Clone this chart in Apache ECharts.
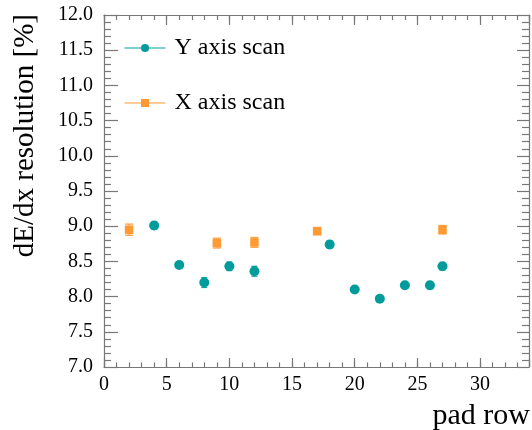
<!DOCTYPE html>
<html>
<head>
<meta charset="utf-8">
<script src="https://cdn.jsdelivr.net/npm/echarts@6/dist/echarts.min.js"></script>
<style>
  html, body { margin: 0; padding: 0; background: #fff; }
  #chart { width: 532px; height: 430px; }
</style>
</head>
<body>
<div id="chart"></div>
<script>
// dE/dx resolution per pad row, for scans along the Y and X axes
const yScanRows  = [4, 6, 8, 10, 12, 18, 20, 22, 24, 26, 27];
const yScanRes   = [9.01, 8.45, 8.20, 8.43, 8.36, 8.74, 8.10, 7.97, 8.16, 8.16, 8.43];
const yScanErr   = [0.05, 0.04, 0.07, 0.06, 0.07, 0.05, 0.04, 0.04, 0.04, 0.05, 0.05];

const xScanRows  = [2, 9, 12, 17, 27];
const xScanRes   = [8.95, 8.76, 8.77, 8.93, 8.95];
const xScanErr   = [0.08, 0.07, 0.07, 0.05, 0.06];

const seriesNames = ['Y axis scan', 'X axis scan'];
const xTitle = 'pad row';
const yTitle = 'dE/dx resolution [%]';

const TEAL = '#009b9b';
const ORANGE = '#ff9933';
const AXIS_GREY = '#777777';
const FONT = "'Liberation Serif', 'Times New Roman', serif";

const X_MIN = 0, X_MAX = 33.9;
const Y_MIN = 7, Y_MAX = 12;

function points(xs, ys) { return xs.map((x, i) => [x, ys[i]]); }
function errs(xs, ys, es) { return xs.map((x, i) => [x, ys[i] - es[i], ys[i] + es[i]]); }

function errorBarRenderer(color, capHalf) {
  return function (params, api) {
    const x = api.value(0);
    const lo = api.coord([x, api.value(1)]);
    const hi = api.coord([x, api.value(2)]);
    const style = { stroke: color, lineWidth: 1.3, opacity: 0.9 };
    return {
      type: 'group',
      children: [
        { type: 'line', shape: { x1: lo[0], y1: lo[1], x2: hi[0], y2: hi[1] }, style: style },
        { type: 'line', shape: { x1: lo[0] - capHalf, y1: lo[1], x2: lo[0] + capHalf, y2: lo[1] }, style: style },
        { type: 'line', shape: { x1: hi[0] - capHalf, y1: hi[1], x2: hi[0] + capHalf, y2: hi[1] }, style: style }
      ]
    };
  };
}

function xAxisDef(position, interval, tickLen, withLabels, withLine) {
  return {
    type: 'value', position: position, min: X_MIN, max: X_MAX, interval: interval,
    axisLine: { show: withLine, onZero: false, lineStyle: { color: AXIS_GREY, width: 1.2 } },
    axisTick: { show: true, inside: true, length: tickLen, lineStyle: { color: AXIS_GREY, width: 1.2 } },
    axisLabel: {
      show: withLabels, margin: 8, color: '#000', fontFamily: FONT, fontSize: 20,
      formatter: v => (Math.abs(v / 5 - Math.round(v / 5)) < 1e-6 ? String(Math.round(v)) : '')
    },
    splitLine: { show: false }
  };
}

function yAxisDef(position, tickLen, minorLen, withLabels) {
  return {
    type: 'value', position: position, min: Y_MIN, max: Y_MAX, interval: 0.5,
    axisLine: { show: true, onZero: false, lineStyle: { color: AXIS_GREY, width: 1.2 } },
    axisTick: { show: true, inside: true, length: tickLen, lineStyle: { color: AXIS_GREY, width: 1.2 } },
    minorTick: { show: true, splitNumber: 5, length: minorLen, lineStyle: { color: AXIS_GREY, width: 1.2 } },
    axisLabel: {
      show: withLabels, margin: 11, color: '#000', fontFamily: FONT, fontSize: 20,
      formatter: v => v.toFixed(1)
    },
    splitLine: { show: false },
    minorSplitLine: { show: false }
  };
}

const chart = echarts.init(document.getElementById('chart'), null, { renderer: 'canvas' });

chart.setOption({
  animation: false,
  backgroundColor: '#ffffff',
  grid: { left: 104, top: 15, width: 427.6, height: 352 },
  xAxis: [
    xAxisDef('bottom', 5, 9, true, true),
    xAxisDef('bottom', 1, 4.5, false, false),
    xAxisDef('top', 5, 10, false, true),
    xAxisDef('top', 1, 5, false, false)
  ],
  yAxis: [
    yAxisDef('left', 14, 7, true),
    yAxisDef('right', 12, 7, false)
  ],
  legend: {
    orient: 'vertical',
    left: 124, top: 36, padding: 0,
    itemWidth: 41, itemHeight: 10, itemGap: 31,
    textStyle: { fontFamily: FONT, fontSize: 24, color: '#000', padding: [0, 0, 0, 4] },
    lineStyle: { width: 1, opacity: 1 },
    data: [
      { name: seriesNames[0], lineStyle: { color: TEAL, width: 1, opacity: 1 } },
      { name: seriesNames[1], lineStyle: { color: ORANGE, width: 1, opacity: 1 } }
    ]
  },
  series: [
    {
      type: 'custom', xAxisIndex: 0, yAxisIndex: 0, z: 2,
      renderItem: errorBarRenderer(TEAL, 3),
      data: errs(yScanRows, yScanRes, yScanErr),
      silent: true
    },
    {
      type: 'custom', xAxisIndex: 0, yAxisIndex: 0, z: 2,
      renderItem: errorBarRenderer(ORANGE, 4),
      data: errs(xScanRows, xScanRes, xScanErr),
      silent: true
    },
    {
      name: seriesNames[0], type: 'line', xAxisIndex: 0, yAxisIndex: 0, z: 3,
      symbol: 'circle', symbolSize: 10, showSymbol: true,
      itemStyle: { color: TEAL },
      lineStyle: { width: 0, opacity: 0, color: TEAL },
      data: points(yScanRows, yScanRes)
    },
    {
      name: seriesNames[1], type: 'line', xAxisIndex: 0, yAxisIndex: 0, z: 3,
      symbol: 'rect', symbolSize: 8.5, showSymbol: true,
      itemStyle: { color: ORANGE },
      lineStyle: { width: 0, opacity: 0, color: ORANGE },
      data: points(xScanRows, xScanRes)
    }
  ],
  graphic: [
    {
      type: 'text', x: 25, y: 14, rotation: Math.PI / 2,
      style: { text: yTitle, font: '29px ' + FONT, fill: '#000', align: 'right', verticalAlign: 'middle' }
    },
    {
      type: 'text', x: 530, y: 416,
      style: { text: xTitle, font: '30px ' + FONT, fill: '#000', align: 'right', verticalAlign: 'middle' }
    }
  ]
});
</script>
</body>
</html>
